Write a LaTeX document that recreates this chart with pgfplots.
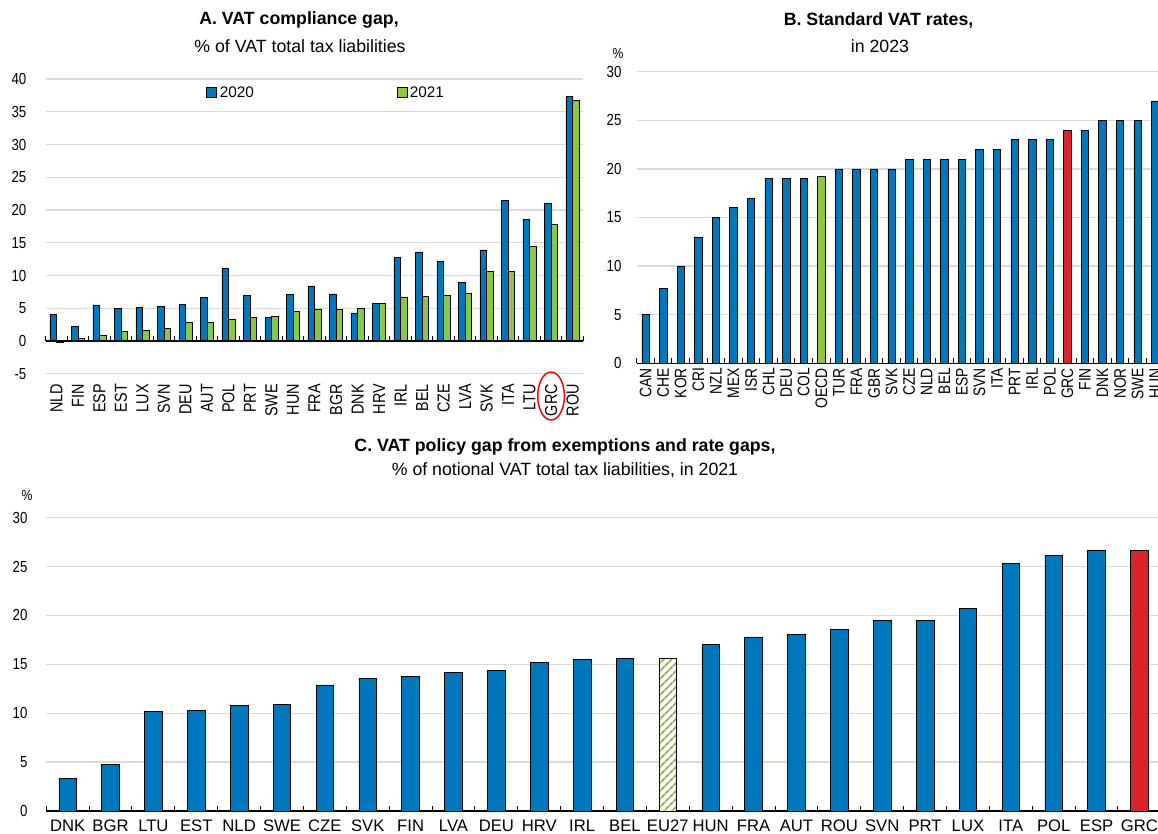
\documentclass[border=0pt]{standalone}
\usepackage{fontspec}
\setmainfont{Liberation Sans}
\newfontfamily\cond[FakeStretch=0.83]{Liberation Sans}
\usepackage{pgfplots}
\usepackage{pgfplotstable}
\pgfplotsset{compat=1.18}
\usetikzlibrary{patterns.meta}

\definecolor{oblue}{RGB}{0,119,189}
\definecolor{ogreen}{RGB}{141,198,63}
\definecolor{ored}{RGB}{218,36,42}
\definecolor{ogrid}{RGB}{217,217,217}

\pgfplotstableread{
idx name y20 y21
0 NLD 4.0 -0.2
1 FIN 2.3 0.4
2 ESP 5.5 0.9
3 EST 5.0 1.4
4 LUX 5.1 1.6
5 SVN 5.3 2.0
6 DEU 5.6 2.8
7 AUT 6.6 2.8
8 POL 11.1 3.3
9 PRT 7.0 3.6
10 SWE 3.6 3.8
11 HUN 7.1 4.5
12 FRA 8.4 4.9
13 BGR 7.2 4.9
14 DNK 4.3 5.0
15 HRV 5.8 5.7
16 IRL 12.7 6.7
17 BEL 13.6 6.8
18 CZE 12.1 7.0
19 LVA 8.9 7.3
20 SVK 13.9 10.6
21 ITA 21.5 10.7
22 LTU 18.6 14.5
23 GRC 21.0 17.8
24 ROU 37.3 36.7
}\tabA

\pgfplotsset{
  vat/.style={
    scale only axis, anchor=south west, ybar, clip=false,
    enlargelimits=false,
    axis y line*=left, y axis line style={draw=none}, ytick style={draw=none},
    ymajorgrids, grid style={ogrid, line width=1pt},
    /pgf/number format/assume math mode=true,
    yticklabel style={font=\cond\fontsize{12}{13}\selectfont},
  },
  box/.style={legend image code/.code={\draw[##1, line width=0.5pt] (0pt,-3.75pt) rectangle (7.5pt,3.75pt);}},
}

\begin{document}
\begin{tikzpicture}
\useasboundingbox (0,0) rectangle (868.5pt,-625.5pt);

% titles
\node[font=\bfseries\fontsize{13.3}{15}\selectfont] at (224.25pt,-15pt) {A. VAT compliance gap,};
\node[font=\fontsize{13.3}{15}\selectfont] at (225pt,-34.5pt) {\% of VAT total tax liabilities};
\node[font=\bfseries\fontsize{13.3}{15}\selectfont] at (658.9pt,-15pt) {B. Standard VAT rates,};
\node[font=\fontsize{13.3}{15}\selectfont] at (660pt,-34.5pt) {in 2023};
\node[font=\bfseries\fontsize{13.3}{15}\selectfont] at (423.75pt,-335.25pt) {C. VAT policy gap from exemptions and rate gaps,};
\node[font=\fontsize{13.3}{15}\selectfont] at (423.75pt,-352.5pt) {\% of notional VAT total tax liabilities, in 2021};
\node[font=\cond\fontsize{11}{12}\selectfont] at (463.5pt,-39.75pt) {\%};
\node[font=\cond\fontsize{11}{12}\selectfont] at (20.25pt,-371.5pt) {\%};

% A
\begin{axis}[vat,
  at={(34.3pt,-280.3pt)}, width=403.2pt, height=221pt,
  xmin=-0.5, xmax=24.5, ymin=-5, ymax=40, ytick={-5,0,...,40},
  yticklabel style={xshift=-11pt},
  axis x line*=bottom, x axis line style={draw=none}, xtick style={draw=none},
  xtick={0,...,24}, xticklabels from table={\tabA}{name},
  xticklabel style={rotate=90, anchor=east, font=\cond\fontsize{13}{14}\selectfont},
  ybar=0pt, bar width=4.95pt,
  legend style={at={(axis cs:12.56,37.9)}, anchor=center, draw=none, fill=none,
    legend columns=2, font=\fontsize{11.5}{12}\selectfont,
    /tikz/every even column/.append style={column sep=105pt}},
]
\addplot[box, fill=oblue, draw=black, line width=0.5pt] table[x=idx, y=y20] {\tabA};
\addplot[box, fill=ogreen, draw=black, line width=0.5pt] table[x=idx, y=y21] {\tabA};
\legend{2020,2021}
\draw[black, line width=1.1pt] (axis cs:-0.5,0) -- (axis cs:24.5,0);
\pgfplotsinvokeforeach{-0.5,0.5,...,24.5}{\draw[black, line width=0.75pt] (axis cs:#1,0) -- ++(0pt,3.75pt);}
\draw[red, line width=1.1pt] (axis cs:23,-8.4) ellipse [x radius=10pt, y radius=18pt];
\end{axis}

% B
\begin{axis}[vat,
  at={(477.6pt,-272.5pt)}, width=395.4pt, height=218.7pt,
  xmin=-0.5, xmax=29.5, ymin=0, ymax=30, ytick={0,5,...,30},
  yticklabel style={xshift=-8pt},
  axis x line*=bottom, x axis line style={black, line width=1.1pt},
  xtick={0,...,29},
  xticklabels={CAN,CHE,KOR,CRI,NZL,MEX,ISR,CHL,DEU,COL,OECD,TUR,FRA,GBR,SVK,CZE,NLD,BEL,ESP,SVN,ITA,PRT,IRL,POL,GRC,FIN,DNK,NOR,SWE,HUN},
  xticklabel style={rotate=90, anchor=east, font=\cond\fontsize{12.5}{13}\selectfont},
  minor xtick={-0.5,0.5,...,29.5}, major tick length=0pt, minor tick length=3.75pt,
  tick align=inside, xtick style={black, line width=0.75pt},
  bar width=5.6pt, bar shift=0pt,
]
\addplot[fill=oblue, draw=black, line width=0.5pt] coordinates {
(0,5) (1,7.7) (2,10) (3,13) (4,15) (5,16) (6,17) (7,19) (8,19) (9,19)
(11,20) (12,20) (13,20) (14,20) (15,21) (16,21) (17,21) (18,21) (19,22) (20,22)
(21,23) (22,23) (23,23) (25,24) (26,25) (27,25) (28,25) (29,27)};
\addplot[fill=ogreen, draw=black, line width=0.5pt] coordinates {(10,19.2)};
\addplot[fill=ored, draw=black, line width=0.5pt] coordinates {(24,24)};
\end{axis}

% C
\begin{axis}[vat,
  at={(34.65pt,-608.25pt)}, width=836pt, height=220pt,
  xmin=-0.5, xmax=25.5, ymin=0, ymax=30, ytick={0,5,...,30},
  yticklabel style={xshift=-10.5pt},
  axis x line*=bottom, x axis line style={black, line width=1.1pt},
  xtick={0,...,25},
  xticklabels={DNK,BGR,LTU,EST,NLD,SWE,CZE,SVK,FIN,LVA,DEU,HRV,IRL,BEL,EU27,HUN,FRA,AUT,ROU,SVN,PRT,LUX,ITA,POL,ESP,GRC},
  xticklabel style={font=\fontsize{12.5}{13}\selectfont, yshift=-3pt},
  minor xtick={-0.5,0.5,...,25.5}, major tick length=0pt, minor tick length=3.75pt,
  tick align=inside, xtick style={black, line width=0.75pt},
  bar width=13.2pt, bar shift=0pt,
]
\addplot[fill=oblue, draw=black, line width=0.5pt] coordinates {
(0,3.3) (1,4.8) (2,10.2) (3,10.3) (4,10.8) (5,10.9) (6,12.9) (7,13.6) (8,13.8)
(9,14.2) (10,14.4) (11,15.2) (12,15.5) (13,15.6) (15,17.0) (16,17.8) (17,18.1)
(18,18.6) (19,19.5) (20,19.5) (21,20.7) (22,25.3) (23,26.1) (24,26.7)};
\addplot[fill=white, draw=black, line width=0.5pt,
  postaction={pattern={Lines[angle=45,distance=4pt,line width=1.5pt]}, pattern color=ogreen}]
  coordinates {(14,15.6)};
\addplot[fill=ored, draw=black, line width=0.5pt] coordinates {(25,26.7)};
\end{axis}
\end{tikzpicture}
\end{document}
